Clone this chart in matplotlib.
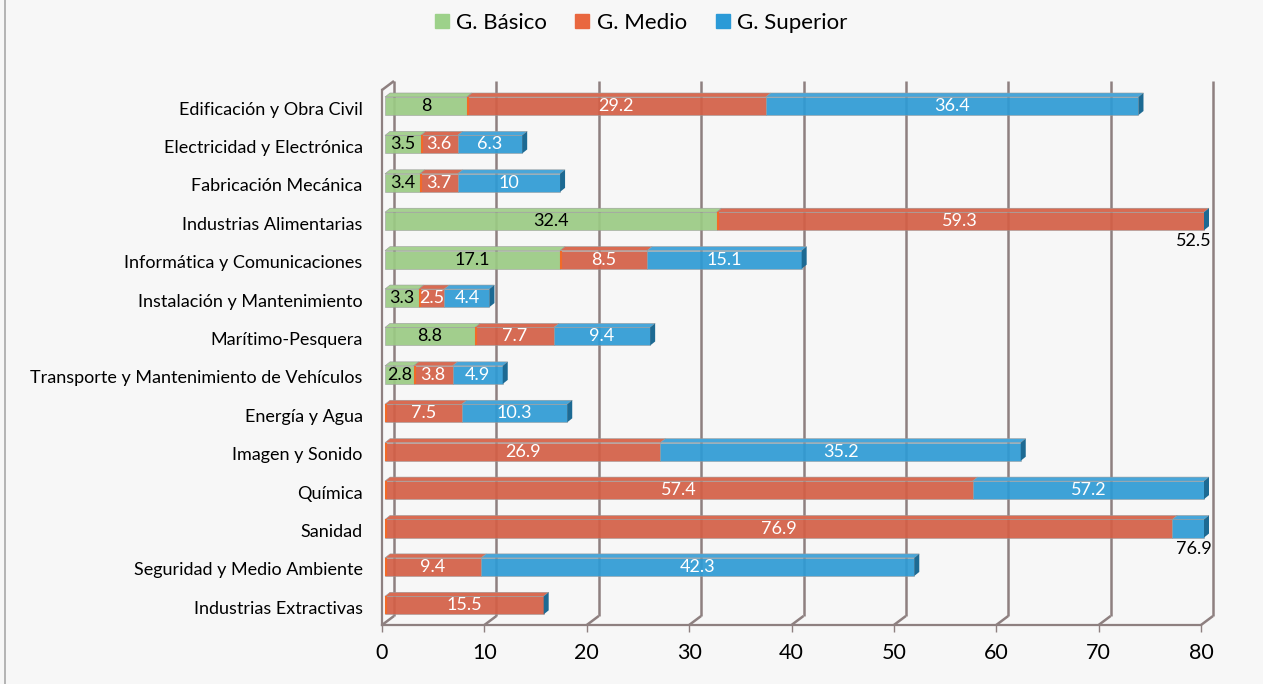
import matplotlib
matplotlib.use("Agg")
import matplotlib.pyplot as plt
import numpy as np
from matplotlib.patches import Polygon
from matplotlib.lines import Line2D
from matplotlib.transforms import IdentityTransform, blended_transform_factory

# ---------------- data ----------------
categories = [
    "Edificación y Obra Civil",
    "Electricidad y Electrónica",
    "Fabricación Mecánica",
    "Industrias Alimentarias",
    "Informática y Comunicaciones",
    "Instalación y Mantenimiento",
    "Marítimo-Pesquera",
    "Transporte y Mantenimiento de Vehículos",
    "Energía y Agua",
    "Imagen y Sonido",
    "Química",
    "Sanidad",
    "Seguridad y Medio Ambiente",
    "Industrias Extractivas",
]
basico = [8, 3.5, 3.4, 32.4, 17.1, 3.3, 8.8, 2.8, 0, 0, 0, 0, 0, 0]
medio = [29.2, 3.6, 3.7, 59.3, 8.5, 2.5, 7.7, 3.8, 7.5, 26.9, 57.4, 76.9, 9.4, 15.5]
superior = [36.4, 6.3, 10, 52.5, 15.1, 4.4, 9.4, 4.9, 10.3, 35.2, 57.2, 76.9, 42.3, 0]
series_names = ["G. Básico", "G. Medio", "G. Superior"]
xticks = [0, 10, 20, 30, 40, 50, 60, 70, 80]

# ---------------- style ----------------
FONT = ["Lato", "DejaVu Sans"]
plt.rcParams["font.family"] = FONT
BG = "#F7F7F7"
GRID = "#8E8080"
face_cols = ["#9BCB84", "#D45F46", "#2E9BD5"]
top_cols = ["#A6D191", "#D96B52", "#47A6DA"]
legend_cols = ["#9DD18A", "#E9673F", "#2B9AD7"]
text_cols = ["black", "white", "white"]
END_FACE = "#1D6A93"
RED_CAP = "#F26A28"

W, H, DPI = 1263, 684, 100
fig = plt.figure(figsize=(W / DPI, H / DPI), dpi=DPI, facecolor=BG)
ax = fig.add_axes([382 / W, 1 - 625 / H, 819 / W, 535 / H])
ax.set_facecolor("none")
XMAX = 80
ax.set_xlim(0, XMAX)
ax.set_ylim(13.46, -0.469)

for s in ["top", "right"]:
    ax.spines[s].set_visible(False)
for s in ["left", "bottom"]:
    ax.spines[s].set_color(GRID)
    ax.spines[s].set_linewidth(1.6)
ax.set_xticks(xticks)
ax.set_xticklabels([str(t) for t in xticks])
ax.tick_params(axis="x", length=5, width=1.0, color=GRID, labelsize=15.5, pad=8)
ax.set_yticks(range(len(categories)))
ax.set_yticklabels(categories)
ax.tick_params(axis="y", length=0, labelsize=13, pad=14)

ID = IdentityTransform()
blend = blended_transform_factory(ax.transData, ax.transAxes)
GX, GY = 12, 9     # wall depth in pixels
BX, BY = 3, 2      # bar front offset
DX, DY = 5, 4      # bar depth


def P(x, ya):
    return np.array(blend.transform((x, ya)))


def D(x, y):
    return np.array(ax.transData.transform((x, y)))


def line(p, q, color=GRID, lw=1.8, z=1):
    l = Line2D([p[0], q[0]], [p[1], q[1]], transform=ID, color=color, lw=lw,
               clip_on=False, zorder=z, solid_capstyle="butt")
    fig.add_artist(l)


# back wall gridlines with floor diagonals
for x in xticks:
    f0 = P(x, 0)
    b0 = f0 + (GX, GY)
    b1 = P(x, 1) + (GX, GY)
    line(f0, b0)
    line(b0, b1)
# left wall top diagonal
line(P(0, 1), P(0, 1) + (GX, GY))

# bars
h = 0.235
off = np.array([BX, BY])
dep = np.array([DX, DY])
for i in range(len(categories)):
    vals = [basico[i], medio[i], superior[i]]
    start = 0.0
    last_end = None
    for k, v in enumerate(vals):
        x0r, x1r = start, start + v
        start = x1r
        x0, x1 = min(x0r, XMAX), min(x1r, XMAX)
        if v > 0 and x1 > x0:
            a = D(x0, i + h) + off
            b = D(x1, i + h) + off
            c = D(x1, i - h) + off
            d = D(x0, i - h) + off
            fig.add_artist(Polygon([a, b, c, d], closed=True, transform=ID,
                                   facecolor=face_cols[k], edgecolor="#9A9A9A",
                                   lw=0.4, alpha=0.92, zorder=3))
            fig.add_artist(Polygon([d, c, c + dep, d + dep], closed=True, transform=ID,
                                   facecolor=top_cols[k], edgecolor="#9A9A9A",
                                   lw=0.4, zorder=3))
            if k == 1:
                line(a + (1, 0), d + (1, 0), color=RED_CAP, lw=1.5, z=4)
            last_end = (b, c)
        if v > 0:
            vis = x1 - x0
            if x1r > XMAX and vis < 5:
                p = D(XMAX, i + h) + off + (DX + 3, -3)
                fig.text(p[0] / W, p[1] / H, f"{v:g}", ha="right", va="top",
                         fontsize=13, color="black", zorder=6)
            else:
                p = D((x0 + x1) / 2, i) + off
                fig.text(p[0] / W, p[1] / H, f"{v:g}", ha="center", va="center",
                         fontsize=13, color=text_cols[k], zorder=6)
    if last_end is not None:
        b, c = last_end
        fig.add_artist(Polygon([b, c, c + dep, b + dep], closed=True, transform=ID,
                               facecolor=END_FACE, edgecolor="none", zorder=3))

# legend
handles = [Line2D([], [], marker="s", ls="", color=c, markersize=10) for c in legend_cols]
fig.legend(handles, series_names, loc="center", bbox_to_anchor=(640 / W, 1 - 23 / H),
           ncol=3, frameon=False, fontsize=16, handletextpad=0.25,
           columnspacing=1.2, handlelength=0.8)

# figure frame line on the left
fig.add_artist(Line2D([4.5 / W, 4.5 / W], [0, 1], transform=fig.transFigure,
                      color="#A8A8A8", lw=1.2))

fig.savefig("out.png", dpi=DPI, facecolor=BG)
